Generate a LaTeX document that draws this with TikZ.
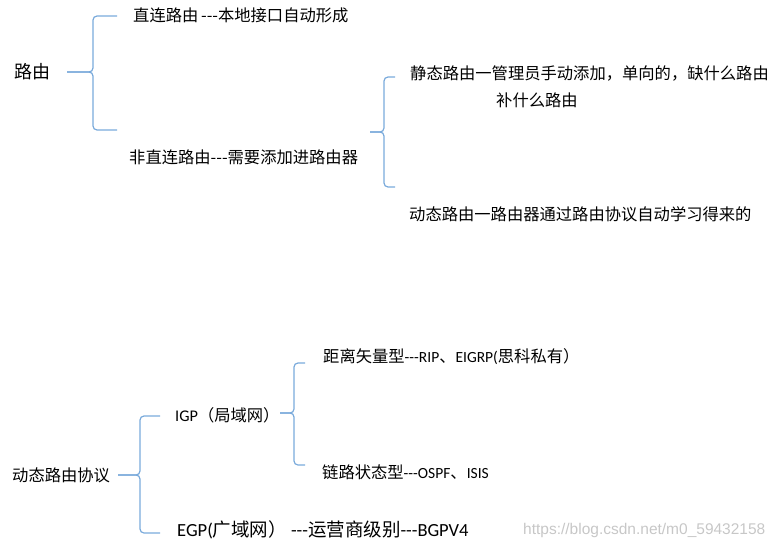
\documentclass[tikz,border=0pt]{standalone}
\usepackage{fontspec}
\setmainfont{Noto Sans CJK SC}
\newfontfamily\lat{Carlito}
\newfontfamily\wmfont{Liberation Sans}
\definecolor{bracecol}{HTML}{7AAADB}
\tikzset{
  lbl/.style={anchor=west, inner sep=0pt, font=\fontsize{16.3}{16.3}\selectfont},
  bigl/.style={lbl, font=\fontsize{18.5}{18.5}\selectfont},
  brace/.style={draw=bracecol, line width=1.2pt, rounded corners=4pt},
}
\begin{document}
\begin{tikzpicture}[x=1pt,y=-1pt]
\path[use as bounding box] (0,0) rectangle (780,549);

% top part
\node[lbl, font=\fontsize{18}{18}\selectfont] (root) at (14,72) {路由};
\node[lbl] (direct) at (133,15) {直连路由\,-{}-{}-本地接口自动形成};
\node[lbl] (indirect) at (129,157) {非直连路由-{}-{}-需要添加进路由器};
\node[lbl] (static) at (410,73) {静态路由一管理员手动添加，单向的，缺什么路由};
\node[lbl] (static2) at (496,100) {补什么路由};
\node[lbl] (dynamic) at (409,214) {动态路由一路由器通过路由协议自动学习得来的};

% braces top
\coordinate (t1) at (67,72);
\draw[brace] (117,16) -- (93,16) -- (93,72) -- (t1);
\draw[brace] (117,130) -- (93,130) -- (93,72) -- (t1);
\coordinate (t2) at (370,132);
\draw[brace] (395,77) -- (384,77) -- (384,132) -- (t2);
\draw[brace] (395,187) -- (384,187) -- (384,132) -- (t2);

% bottom part
\node[lbl] (proto) at (12,475) {动态路由协议};
\node[lbl] (igp) at (175,415) {{\lat IGP}（局域网）};
\node[lbl] (dv) at (323,357) {距离矢量型{\lat\fontsize{15.5}{15.5}\selectfont -{}-{}-RIP}、{\lat\fontsize{15.5}{15.5}\selectfont EIGRP(}思科私有）};
\node[lbl] (ls) at (322,472) {链路状态型{\lat\fontsize{15.5}{15.5}\selectfont -{}-{}-OSPF}、{\lat\fontsize{15.5}{15.5}\selectfont ISIS}};
\node[bigl] (egp) at (177,530) {{\lat EGP(}广域网）{\lat\ -{}-{}-}运营商级别{\lat -{}-{}-BGPV4}};

\coordinate (t3) at (118,475);
\draw[brace] (160,416) -- (140,416) -- (140,475) -- (t3);
\draw[brace] (160,533) -- (140,533) -- (140,475) -- (t3);
\coordinate (t4) at (280,413);
\draw[brace] (305,363) -- (294,363) -- (294,413) -- (t4);
\draw[brace] (305,465) -- (294,465) -- (294,413) -- (t4);

% watermark
\node[anchor=west, inner sep=0pt, text=black!22, font=\wmfont\fontsize{15.5}{15.5}\selectfont] (wm) at (523,530) {https://blog.csdn.net/m0\_59432158};
\end{tikzpicture}
\end{document}
